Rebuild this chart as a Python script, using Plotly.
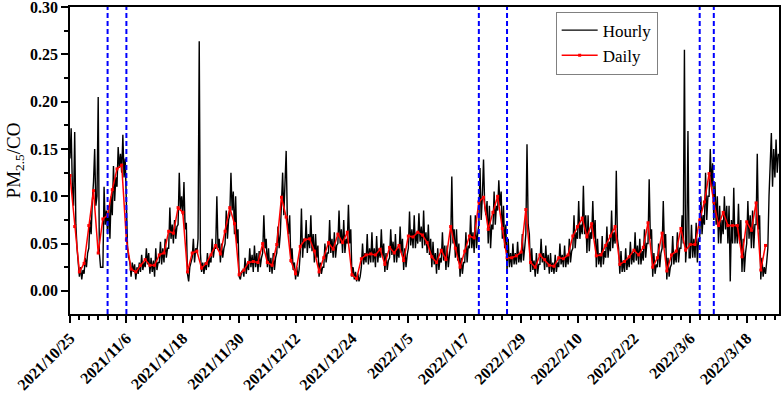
import pandas as pd
import plotly.graph_objects as go

# ---------------- data ----------------
start_date = "2021-10-25"
end_date = "2022-03-24 21:00"

# daily mean PM2.5/CO, one value per day starting 2021/10/25
daily_values = [
    0.122, 0.068, 0.020, 0.029, 0.069, 0.106, 0.040, 0.076, 0.080, 0.107,
    0.129, 0.133, 0.054, 0.023, 0.020, 0.027, 0.033, 0.027, 0.027, 0.038,
    0.040, 0.063, 0.061, 0.088, 0.083, 0.020, 0.040, 0.042, 0.024, 0.029,
    0.038, 0.048, 0.039, 0.063, 0.088, 0.071, 0.017, 0.022, 0.030, 0.031,
    0.030, 0.050, 0.030, 0.027, 0.049, 0.099, 0.078, 0.032, 0.018, 0.047,
    0.054, 0.055, 0.042, 0.020, 0.035, 0.051, 0.044, 0.060, 0.051, 0.062,
    0.017, 0.013, 0.034, 0.038, 0.039, 0.038, 0.044, 0.028, 0.046, 0.040,
    0.048, 0.032, 0.058, 0.057, 0.062, 0.059, 0.051, 0.036, 0.030, 0.043,
    0.033, 0.068, 0.045, 0.025, 0.042, 0.058, 0.056, 0.094, 0.099, 0.065,
    0.083, 0.100, 0.066, 0.035, 0.035, 0.037, 0.041, 0.086, 0.030, 0.025,
    0.038, 0.033, 0.027, 0.026, 0.035, 0.034, 0.038, 0.058, 0.068, 0.077,
    0.057, 0.071, 0.037, 0.038, 0.048, 0.058, 0.068, 0.028, 0.031, 0.036,
    0.043, 0.038, 0.046, 0.072, 0.025, 0.035, 0.061, 0.021, 0.038, 0.042,
    0.066, 0.043, 0.049, 0.049, 0.075, 0.094, 0.124, 0.094, 0.069, 0.083,
    0.069, 0.069, 0.069, 0.036, 0.073, 0.064, 0.093, 0.022, 0.048,
]

# hourly series (read at 6-hour steps: 00, 06, 12, 18 h of each day)
hourly_values = [
    0.140, 0.172, 0.110, 0.090,   0.168, 0.070, 0.045, 0.030,   0.015, 0.025, 0.012, 0.022,
    0.018, 0.035, 0.025, 0.040,   0.045, 0.075, 0.060, 0.095,   0.115, 0.150, 0.090, 0.100,
    0.205, 0.040, 0.025, 0.025,   0.025, 0.110, 0.070, 0.085,   0.060, 0.090, 0.055, 0.100,
    0.080, 0.132, 0.095, 0.120,   0.110, 0.152, 0.130, 0.145,   0.125, 0.165, 0.120, 0.140,
    0.085, 0.045, 0.035, 0.030,   0.015, 0.030, 0.020, 0.028,   0.012, 0.025, 0.018, 0.030,
    0.020, 0.038, 0.022, 0.030,   0.025, 0.045, 0.028, 0.040,   0.018, 0.035, 0.020, 0.032,
    0.015, 0.045, 0.022, 0.030,   0.030, 0.052, 0.028, 0.045,   0.030, 0.055, 0.035, 0.045,
    0.045, 0.088, 0.055, 0.070,   0.050, 0.075, 0.055, 0.068,   0.070, 0.125, 0.085, 0.100,
    0.080, 0.115, 0.065, 0.072,   0.018, 0.010, 0.025, 0.030,   0.035, 0.055, 0.030, 0.045,
    0.040, 0.055, 0.264, 0.040,   0.020, 0.030, 0.018, 0.030,   0.022, 0.040, 0.025, 0.035,
    0.030, 0.055, 0.035, 0.045,   0.045, 0.100, 0.045, 0.055,   0.030, 0.050, 0.035, 0.045,
    0.050, 0.085, 0.055, 0.075,   0.080, 0.125, 0.085, 0.105,   0.060, 0.100, 0.050, 0.065,
    0.015, 0.012, 0.020, 0.022,   0.015, 0.035, 0.018, 0.030,   0.022, 0.045, 0.025, 0.038,
    0.020, 0.048, 0.025, 0.040,   0.020, 0.042, 0.025, 0.035,   0.040, 0.080, 0.045, 0.055,
    0.025, 0.045, 0.020, 0.035,   0.018, 0.040, 0.022, 0.035,   0.040, 0.068, 0.045, 0.060,
    0.085, 0.125, 0.080, 0.110,   0.148, 0.075, 0.060, 0.080,   0.030, 0.045, 0.022, 0.030,
    0.012, 0.025, 0.015, 0.022,   0.040, 0.087, 0.035, 0.055,   0.045, 0.075, 0.040, 0.060,
    0.045, 0.080, 0.042, 0.060,   0.030, 0.060, 0.035, 0.048,   0.015, 0.030, 0.018, 0.025,
    0.025, 0.050, 0.030, 0.040,   0.040, 0.075, 0.040, 0.055,   0.035, 0.062, 0.035, 0.048,
    0.050, 0.085, 0.050, 0.065,   0.040, 0.075, 0.040, 0.055,   0.050, 0.091, 0.050, 0.065,
    0.015, 0.025, 0.012, 0.020,   0.010, 0.018, 0.010, 0.015,   0.025, 0.050, 0.028, 0.040,
    0.030, 0.060, 0.028, 0.045,   0.030, 0.062, 0.030, 0.045,   0.025, 0.058, 0.030, 0.045,
    0.035, 0.065, 0.035, 0.050,   0.020, 0.040, 0.022, 0.032,   0.035, 0.065, 0.038, 0.052,
    0.030, 0.060, 0.030, 0.045,   0.035, 0.068, 0.040, 0.055,   0.022, 0.045, 0.025, 0.038,
    0.045, 0.084, 0.048, 0.065,   0.045, 0.080, 0.045, 0.062,   0.050, 0.082, 0.052, 0.068,
    0.045, 0.085, 0.048, 0.062,   0.040, 0.070, 0.038, 0.055,   0.025, 0.052, 0.028, 0.040,
    0.018, 0.045, 0.022, 0.035,   0.030, 0.062, 0.032, 0.048,   0.022, 0.048, 0.025, 0.038,
    0.050, 0.121, 0.050, 0.065,   0.035, 0.065, 0.032, 0.050,   0.015, 0.035, 0.018, 0.030,
    0.030, 0.062, 0.030, 0.048,   0.045, 0.080, 0.045, 0.062,   0.040, 0.080, 0.045, 0.060,
    0.070, 0.130, 0.075, 0.100,   0.139, 0.090, 0.080, 0.095,   0.050, 0.090, 0.045, 0.070,
    0.065, 0.105, 0.070, 0.090,   0.085, 0.117, 0.090, 0.105,   0.055, 0.090, 0.045, 0.070,
    0.020, 0.055, 0.025, 0.040,   0.025, 0.050, 0.028, 0.040,   0.028, 0.052, 0.030, 0.040,
    0.030, 0.060, 0.032, 0.045,   0.060, 0.155, 0.070, 0.060,   0.020, 0.045, 0.022, 0.032,
    0.015, 0.040, 0.018, 0.028,   0.028, 0.055, 0.030, 0.040,   0.022, 0.048, 0.025, 0.038,
    0.018, 0.040, 0.020, 0.030,   0.018, 0.038, 0.020, 0.030,   0.025, 0.050, 0.028, 0.038,
    0.025, 0.048, 0.025, 0.038,   0.028, 0.055, 0.030, 0.042,   0.045, 0.080, 0.045, 0.062,
    0.055, 0.095, 0.055, 0.070,   0.060, 0.111, 0.060, 0.080,   0.040, 0.080, 0.042, 0.062,
    0.055, 0.095, 0.055, 0.075,   0.025, 0.055, 0.028, 0.040,   0.025, 0.058, 0.028, 0.042,
    0.035, 0.068, 0.035, 0.052,   0.042, 0.085, 0.045, 0.062,   0.050, 0.127, 0.055, 0.045,
    0.018, 0.042, 0.020, 0.032,   0.020, 0.045, 0.022, 0.035,   0.025, 0.052, 0.028, 0.040,
    0.030, 0.062, 0.032, 0.048,   0.028, 0.055, 0.028, 0.042,   0.032, 0.065, 0.035, 0.050,
    0.050, 0.118, 0.055, 0.065,   0.015, 0.040, 0.018, 0.028,   0.025, 0.050, 0.025, 0.040,
    0.045, 0.095, 0.045, 0.060,   0.012, 0.035, 0.015, 0.025,   0.028, 0.058, 0.028, 0.040,
    0.030, 0.062, 0.030, 0.045,   0.045, 0.080, 0.050, 0.255,   0.030, 0.050, 0.169, 0.035,
    0.035, 0.070, 0.035, 0.055,   0.035, 0.072, 0.030, 0.055,   0.055, 0.100, 0.060, 0.080,
    0.070, 0.125, 0.075, 0.100,   0.100, 0.150, 0.110, 0.135,   0.075, 0.115, 0.070, 0.100,
    0.050, 0.090, 0.050, 0.075,   0.060, 0.100, 0.065, 0.090,   0.050, 0.090, 0.010, 0.075,
    0.050, 0.109, 0.050, 0.070,   0.050, 0.092, 0.050, 0.075,   0.020, 0.055, 0.020, 0.040,
    0.050, 0.095, 0.055, 0.080,   0.045, 0.085, 0.045, 0.070,   0.070, 0.145, 0.065, 0.080,
    0.012, 0.035, 0.015, 0.025,   0.018, 0.030, 0.045, 0.100,   0.130, 0.167, 0.110, 0.150,
    0.120, 0.160, 0.125, 0.145,
]

# dates of the dashed event markers
event_dates = ["2021-11-02", "2021-11-06", "2022-01-20", "2022-01-26", "2022-03-08", "2022-03-11"]

y_tick_values = [0.00, 0.05, 0.10, 0.15, 0.20, 0.25, 0.30]

# ---------------- figure ----------------
hourly_x = pd.date_range(start_date, periods=len(hourly_values), freq="6h")
daily_x = pd.date_range(start_date, periods=len(daily_values), freq="D")

SERIF = "Liberation Serif, Times New Roman, serif"

fig = go.Figure()
fig.add_trace(go.Scatter(
    x=hourly_x, y=hourly_values, mode="lines", name="Hourly",
    line=dict(color="black", width=1.4),
))
fig.add_trace(go.Scatter(
    x=daily_x, y=daily_values, mode="lines+markers", name="Daily",
    line=dict(color="#ff0000", width=1.5),
    marker=dict(symbol="square", size=3, color="#ff0000"),
))

for d in event_dates:
    fig.add_shape(type="line", xref="x", yref="paper", x0=d, x1=d, y0=0, y1=1,
                  line=dict(color="#0000ff", width=2, dash="5px,3px"))

fig.update_layout(
    width=782, height=396,
    margin=dict(l=70, r=3, t=7, b=82, autoexpand=False),
    paper_bgcolor="white", plot_bgcolor="white",
    showlegend=True,
    legend=dict(
        x=0.685, y=0.985, xanchor="left", yanchor="top",
        bordercolor="#808080", borderwidth=1, bgcolor="white",
        font=dict(family=SERIF, size=17, color="black"),
        tracegroupgap=0, itemwidth=36,
    ),
    font=dict(family=SERIF, color="black"),
)

fig.update_xaxes(
    type="date", automargin=False,
    range=[start_date, end_date],
    tickmode="linear", tick0=start_date, dtick=12 * 86400000,
    tickformat="%Y/%-m/%-d", tickangle=-45,
    tickfont=dict(family=SERIF, size=16, color="black", weight="bold"),
    ticklabeloverflow="allow",
    ticks="outside", ticklen=7, tickwidth=1.5, tickcolor="black",
    minor=dict(ticks="outside", ticklen=4, tickwidth=1.5, tickcolor="black",
               tickmode="linear", tick0=start_date, dtick=2 * 86400000),
    showline=True, linecolor="black", linewidth=1.5, mirror=True,
    showgrid=False, zeroline=False,
)
fig.update_yaxes(
    automargin=False,
    range=[-0.0245, 0.3002],
    tickmode="array", tickvals=y_tick_values, tickformat=".2f",
    tickfont=dict(family=SERIF, size=16, color="black", weight="bold"),
    ticklabeloverflow="allow",
    ticks="outside", ticklen=7, tickwidth=1.5, tickcolor="black",
    minor=dict(ticks="outside", ticklen=4, tickwidth=1.5, tickcolor="black",
               tickmode="linear", tick0=0, dtick=0.025),
    showline=True, linecolor="black", linewidth=1.5, mirror=True,
    showgrid=False, zeroline=False,
    title=dict(text="PM<sub>2.5</sub>/CO", font=dict(family=SERIF, size=19, color="black"), standoff=4),
)

fig.write_html("out.html", config={"displayModeBar": False},
               post_script="document.body.style.margin='0';")
